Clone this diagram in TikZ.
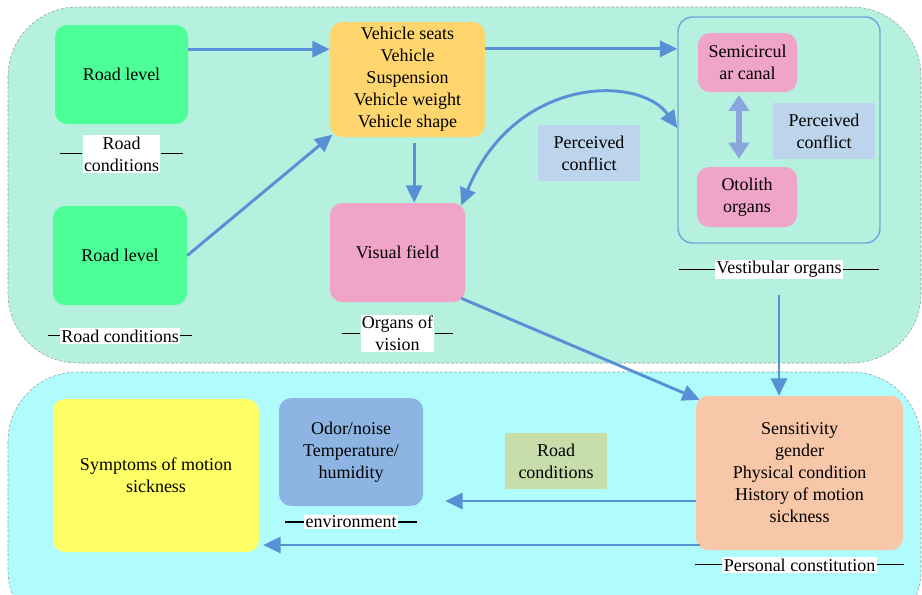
\documentclass[tikz,border=0pt]{standalone}
\usepackage{fontspec}
\setmainfont{Liberation Serif}
\usetikzlibrary{arrows.meta,positioning}

\definecolor{fondoarriba}{RGB}{182,240,222}
\definecolor{fondoabajo}{RGB}{176,252,252}
\definecolor{verdevia}{RGB}{76,255,150}
\definecolor{amarillovehiculo}{RGB}{255,214,110}
\definecolor{rosaorgano}{RGB}{240,164,200}
\definecolor{azulconflicto}{RGB}{188,212,236}
\definecolor{salmon}{RGB}{248,198,168}
\definecolor{verdesuave}{RGB}{200,222,170}
\definecolor{azulambiente}{RGB}{141,180,226}
\definecolor{amarillosintoma}{RGB}{255,255,102}
\definecolor{azulflecha}{RGB}{88,144,214}
\definecolor{azulborde}{RGB}{120,165,220}
\definecolor{lila}{RGB}{140,165,220}

\tikzset{
    panel/.style={
        rounded corners=52pt,     % esquinas muy redondeadas
        draw=gray!80,             % borde gris fino
        dash pattern=on 2pt off 1.5pt,
        thin,
        fill=#1                   % color de fondo del panel
    },
    factor/.style={
        rectangle,
        rounded corners=9pt,      % esquinas redondeadas
        fill=#1,                  % relleno de color plano
        draw=none,
        align=center,             % texto centrado
        inner sep=1pt,
        font=\fontsize{13.5}{16.5}\selectfont
    },
    nota/.style={
        rectangle,                % sin esquinas redondeadas
        fill=#1,
        align=center,
        minimum width=76.5pt,
        minimum height=42pt,
        font=\fontsize{13.5}{16.5}\selectfont
    },
    rotulo/.style={
        fill=white,               % fondo blanco sobre la linea
        align=center,
        inner sep=1pt,
        font=\fontsize{13.5}{16.5}\selectfont
    },
    flecha/.style={
        draw=azulflecha,
        line width=2.2pt,
        -{Triangle[length=13pt,width=12pt]}
    }
}

\begin{document}
\begin{tikzpicture}[x=0.75pt,y=-0.75pt]
    \useasboundingbox (0,0) rectangle (922,594);

    % paneles de fondo
    \draw[panel=fondoarriba] (8,7) rectangle (921,363);
    \draw[panel=fondoabajo] (8,372) rectangle (921,640);

    % panel superior
    \node[factor=verdevia, minimum width=99.75pt, minimum height=74.25pt] (via1) at (121.5,74.5) {Road level};
    \node[factor=verdevia, minimum width=100.5pt, minimum height=74.25pt] (via2) at (120,255.5) {Road level};
    \node[factor=amarillovehiculo, minimum width=116.25pt, minimum height=86.25pt] (vehiculo) at (407.5,79.5) {
        Vehicle seats\\Vehicle\\Suspension\\Vehicle weight\\Vehicle shape
    };
    \node[factor=rosaorgano, minimum width=101.25pt, minimum height=74.25pt] (vision) at (397.5,252.5) {Visual field};

    \node[rectangle, rounded corners=11pt, draw=azulborde, line width=1.1pt,
        minimum width=151.5pt, minimum height=169.5pt] (vestibulo) at (779,130) {};
    \node[factor=rosaorgano, minimum width=74.25pt, minimum height=44.25pt] (canal) at (747.5,62.5) {Semicircul\\ar canal};
    \node[factor=rosaorgano, minimum width=75pt, minimum height=45pt] (otolito) at (747,197) {Otolith\\organs};
    \node[nota=azulconflicto] (conflicto1) at (824,131) {Perceived\\conflict};
    \node[nota=azulconflicto] (conflicto2) at (589,153) {Perceived\\conflict};

    \node[rotulo, below=8pt of via1] (rot1) {Road\\conditions};
    \node[rotulo, below=17pt of via2] (rot2) {Road conditions};
    \node[rotulo, below=9pt of vision] (rot3) {Organs of\\vision};
    \node[rotulo, below=12pt of vestibulo] (rot4) {Vestibular organs};

    % panel inferior
    \node[factor=salmon, minimum width=155.25pt, minimum height=115.5pt] (persona) at (799.5,473) {
        Sensitivity\\gender\\Physical condition\\History of motion\\sickness
    };
    \node[nota=verdesuave] (condiciones) at (556,461) {Road\\conditions};
    \node[factor=azulambiente, minimum width=108pt, minimum height=81pt] (ambiente) at (351,452) {
        Odor/noise\\Temperature/\\humidity
    };
    \node[factor=amarillosintoma, minimum width=154.5pt, minimum height=114.75pt] (sintomas) at (156,475.5) {
        Symptoms of motion\\sickness
    };

    \node[rotulo, below=6pt of ambiente] (rot5) {environment};
    \node[rotulo, below=5pt of persona] (rot6) {Personal constitution};

    % lineas de los rotulos
    \foreach \r/\l in {rot1/16.5pt, rot2/9pt, rot3/14pt, rot4/27pt, rot5/14pt, rot6/20pt}{
        \draw[line width=0.9pt] ([xshift=-\l]\r.west) -- (\r.west);
        \draw[line width=0.9pt] (\r.east) -- ([xshift=\l]\r.east);
    }

    % flechas
    \draw[flecha] ([yshift=19pt]via1.east) -- ([yshift=19pt]via1.east -| vehiculo.west);
    \draw[flecha] (via2.east) -- ([xshift=2pt,yshift=2pt]vehiculo.south west);
    \draw[flecha] ([yshift=23pt]vehiculo.east) -- ([yshift=23pt]vehiculo.east -| vestibulo.west);
    \draw[flecha] ([xshift=5pt,yshift=-4pt]vehiculo.south) -- ([xshift=5pt]vehiculo.south |- vision.north);
    \draw[flecha, {Triangle[length=13pt,width=12pt]}-{Triangle[length=13pt,width=12pt]}]
        ([xshift=-3pt,yshift=-2pt]vision.north east) .. controls (515,75) and (640,75) .. ([yshift=1.5pt]vestibulo.west);
    \draw[draw=lila, line width=4.5pt, {Triangle[length=12pt,width=15pt]}-{Triangle[length=12pt,width=15pt]}]
        ([xshift=-6.4pt,yshift=-2pt]canal.south) -- ([xshift=-6.4pt,yshift=6pt]canal.south |- otolito.north);
    \draw[flecha] ([xshift=-3pt,yshift=3pt]vision.south east) -- ([xshift=3pt,yshift=-3pt]persona.north west);
    \draw[flecha] ([yshift=-12pt]rot4.south) -- (persona.north -| rot4.south);
    \draw[flecha] ([yshift=-21pt]persona.west) -- ([yshift=-21pt,xshift=16.5pt]persona.west -| ambiente.east);
    \draw[flecha] ([yshift=-54pt,xshift=3pt]persona.west) -- ([yshift=-54pt,xshift=3pt]persona.west -| sintomas.east);
\end{tikzpicture}
\end{document}
